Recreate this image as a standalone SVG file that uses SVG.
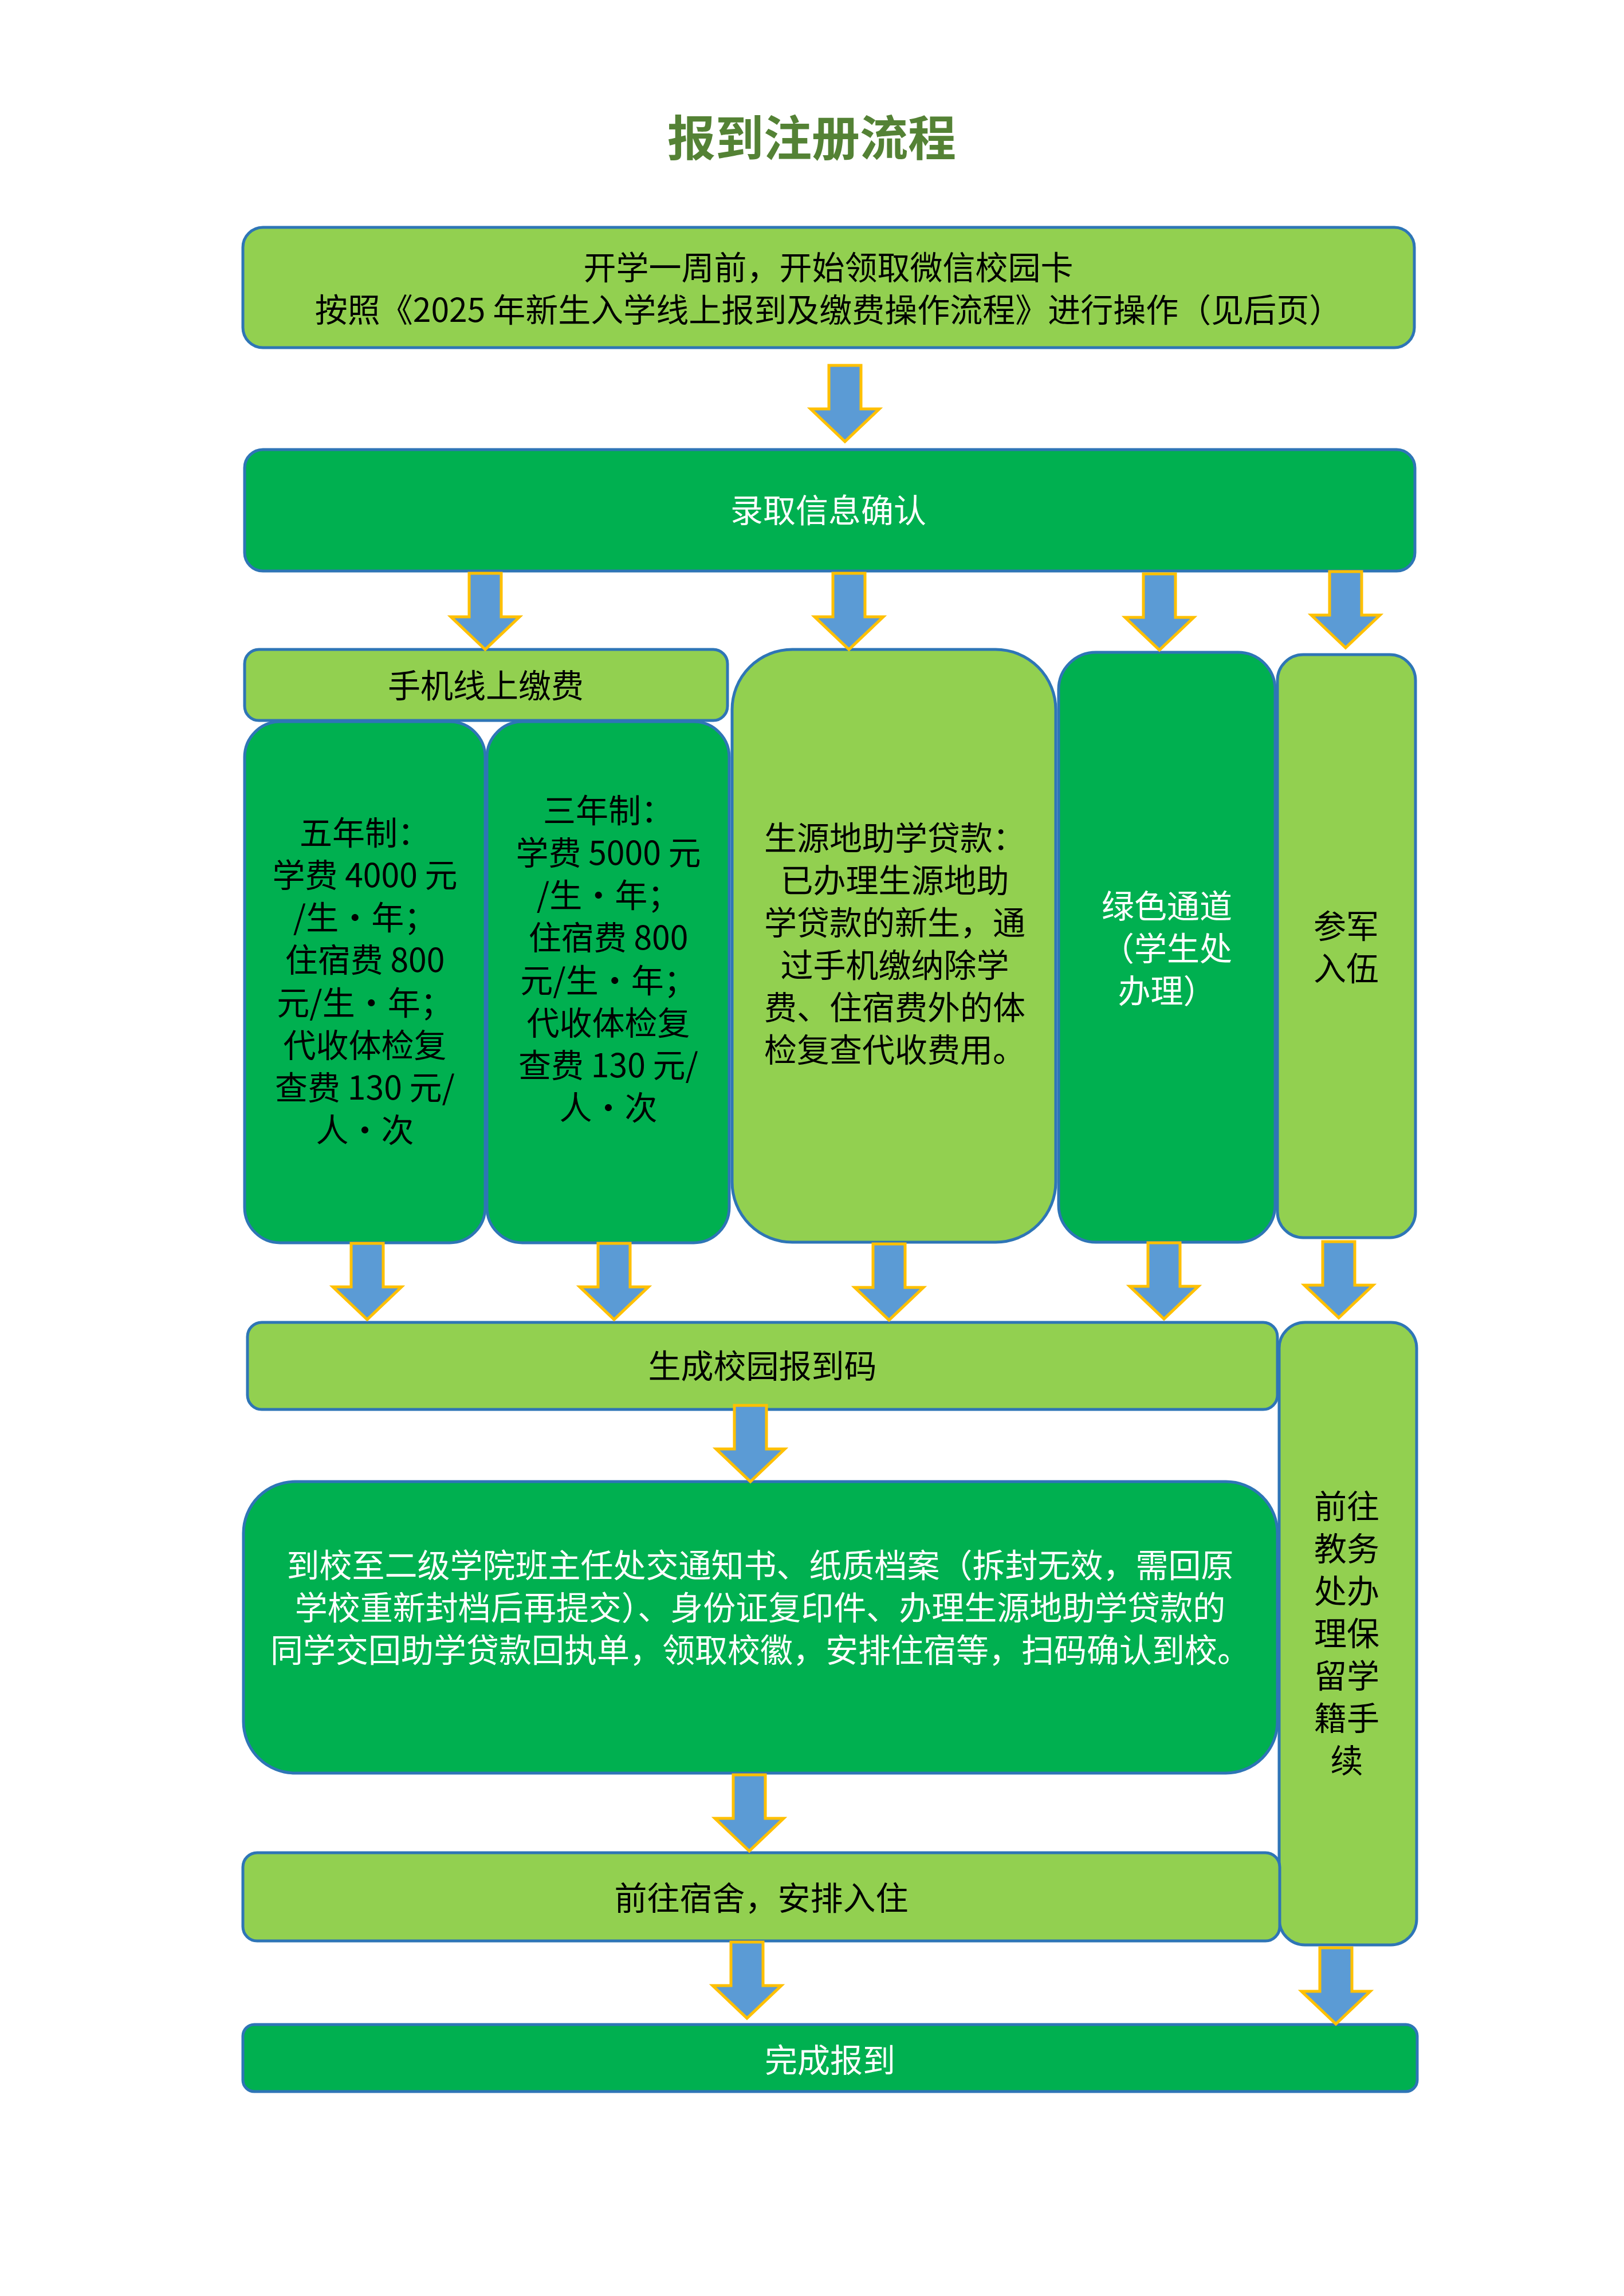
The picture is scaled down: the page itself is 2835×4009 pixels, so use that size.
<svg xmlns="http://www.w3.org/2000/svg" width="2835" height="4009" viewBox="0 0 2835 4009">
<style>
.lg{fill:#92d050;stroke:#2e75b6;stroke-width:5}
.dg{fill:#00b050;stroke:#2e75b6;stroke-width:5}
.t{font-family:"Noto Sans CJK SC","Noto Sans",sans-serif;font-size:57px;text-anchor:middle}
.k{fill:#000000}
.w{fill:#ffffff}
.ttl{font-family:"Noto Sans CJK SC","Noto Sans",sans-serif;font-size:84px;font-weight:700;fill:#548235;text-anchor:middle}
.arr{fill:#5b9bd5;stroke:#ffc000;stroke-width:5;stroke-linejoin:miter}
</style>
<defs>
<path id="arrow" class="arr" d="M-28,0 H28 V76 H60 L0,133 L-60,76 H-28 Z"/>
</defs>
<rect width="2835" height="4009" fill="#ffffff"/>
<text class="ttl" x="1417" y="272">报到注册流程</text>

<g id="n1">
<rect class="lg" x="424" y="397" width="2045" height="210" rx="35"/>
<text class="t k" x="1446" y="488">开学一周前，开始领取微信校园卡</text>
<text class="t k" x="1446" y="562">按照《2025 年新生入学线上报到及缴费操作流程》进行操作（见后页）</text>
</g>

<g id="n2">
<rect class="dg" x="427" y="785" width="2043" height="212" rx="32"/>
<text class="t w" x="1446" y="912">录取信息确认</text>
</g>

<g id="n3">
<rect class="lg" x="427" y="1134" width="843" height="124" rx="25"/>
<text class="t k" x="848" y="1218">手机线上缴费</text>
</g>

<g id="n4">
<rect class="dg" x="427" y="1260" width="420" height="910" rx="62"/>
<text class="t k" x="637" y="1475">五年制：</text>
<text class="t k" x="637" y="1549">学费 4000 元</text>
<text class="t k" x="637" y="1623">/生・年；</text>
<text class="t k" x="637" y="1697">住宿费 800</text>
<text class="t k" x="637" y="1772">元/生・年；</text>
<text class="t k" x="637" y="1846">代收体检复</text>
<text class="t k" x="637" y="1920">查费 130 元/</text>
<text class="t k" x="637" y="1994">人・次</text>
</g>

<g id="n5">
<rect class="dg" x="850" y="1260" width="423" height="910" rx="62"/>
<text class="t k" x="1062" y="1436">三年制：</text>
<text class="t k" x="1062" y="1510">学费 5000 元</text>
<text class="t k" x="1062" y="1584">/生・年；</text>
<text class="t k" x="1062" y="1658">住宿费 800</text>
<text class="t k" x="1062" y="1733">元/生・年；</text>
<text class="t k" x="1062" y="1807">代收体检复</text>
<text class="t k" x="1062" y="1881">查费 130 元/</text>
<text class="t k" x="1062" y="1955">人・次</text>
</g>

<g id="n6">
<rect class="lg" x="1278" y="1134" width="565" height="1035" rx="105"/>
<text class="t k" x="1562" y="1484">生源地助学贷款：</text>
<text class="t k" x="1562" y="1558">已办理生源地助</text>
<text class="t k" x="1562" y="1632">学贷款的新生，通</text>
<text class="t k" x="1562" y="1706">过手机缴纳除学</text>
<text class="t k" x="1562" y="1780">费、住宿费外的体</text>
<text class="t k" x="1562" y="1854">检复查代收费用。</text>
</g>

<g id="n7">
<rect class="dg" x="1848" y="1139" width="378" height="1030" rx="65"/>
<text class="t w" x="2037" y="1603">绿色通道</text>
<text class="t w" x="2037" y="1677">（学生处</text>
<text class="t w" x="2037" y="1751">办理）</text>
</g>

<g id="n8">
<rect class="lg" x="2230" y="1143" width="241" height="1018" rx="45"/>
<text class="t k" x="2350" y="1638">参军</text>
<text class="t k" x="2350" y="1712">入伍</text>
</g>

<g id="n9">
<rect class="lg" x="432" y="2309" width="1798" height="152" rx="25"/>
<text class="t k" x="1331" y="2406">生成校园报到码</text>
</g>

<g id="n10">
<rect class="lg" x="2233" y="2309" width="240" height="1087" rx="45"/>
<text class="t k" x="2351" y="2651">前往</text>
<text class="t k" x="2351" y="2725">教务</text>
<text class="t k" x="2351" y="2799">处办</text>
<text class="t k" x="2351" y="2873">理保</text>
<text class="t k" x="2351" y="2947">留学</text>
<text class="t k" x="2351" y="3021">籍手</text>
<text class="t k" x="2351" y="3095">续</text>
</g>

<g id="n11">
<rect class="dg" x="425" y="2587" width="1805" height="509" rx="90"/>
<text class="t w" x="1327" y="2754">到校至二级学院班主任处交通知书、纸质档案（拆封无效，需回原</text>
<text class="t w" x="1327" y="2828">学校重新封档后再提交）、身份证复印件、办理生源地助学贷款的</text>
<text class="t w" x="1327" y="2902">同学交回助学贷款回执单，领取校徽，安排住宿等，扫码确认到校。</text>
</g>

<g id="n12">
<rect class="lg" x="424" y="3235" width="1810" height="154" rx="25"/>
<text class="t k" x="1329" y="3335">前往宿舍，安排入住</text>
</g>

<g id="n13">
<rect class="dg" x="424" y="3535" width="2050" height="117" rx="20"/>
<text class="t w" x="1449" y="3618">完成报到</text>
</g>

<g id="connectors">
<use href="#arrow" x="1475" y="638"/>
<use href="#arrow" x="847" y="1001"/>
<use href="#arrow" x="1482" y="1001"/>
<use href="#arrow" x="2024" y="1002"/>
<use href="#arrow" x="2349" y="998"/>
<use href="#arrow" x="641" y="2171"/>
<use href="#arrow" x="1072" y="2171"/>
<use href="#arrow" x="1552" y="2172"/>
<use href="#arrow" x="2032" y="2170"/>
<use href="#arrow" x="2337" y="2168"/>
<use href="#arrow" x="1310" y="2454"/>
<use href="#arrow" x="1308" y="3099"/>
<use href="#arrow" x="1304" y="3391"/>
<use href="#arrow" x="2332" y="3401"/>
</g>
</svg>
